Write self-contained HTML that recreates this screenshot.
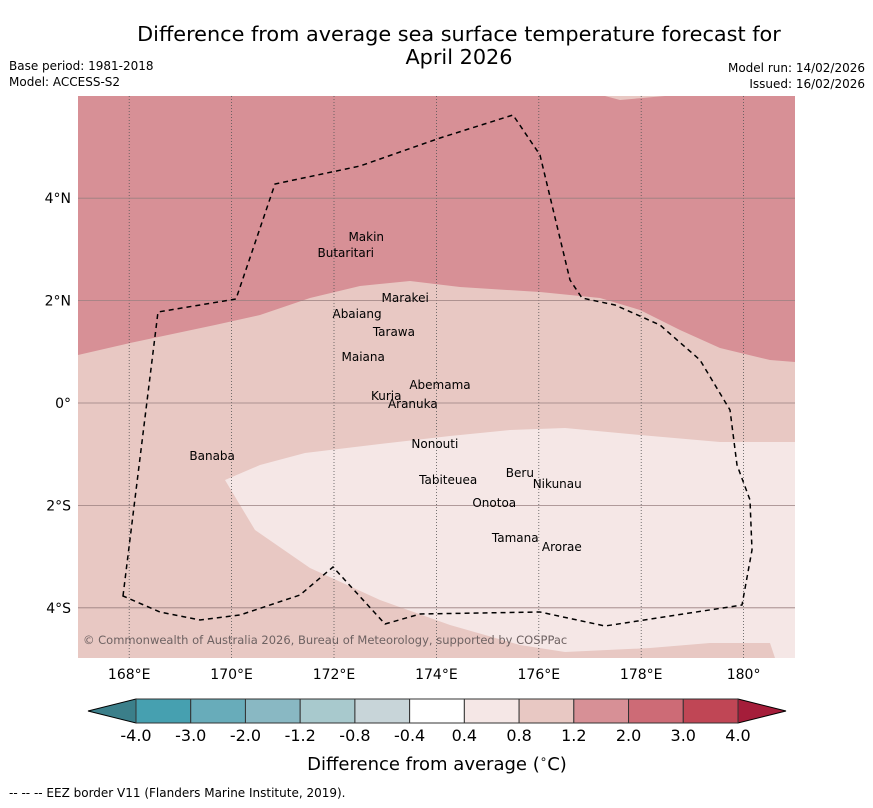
<!DOCTYPE html>
<html><head><meta charset="utf-8">
<style>
body{margin:0;background:#fff;font-family:"DejaVu Sans","Liberation Sans",sans-serif;}
svg text{font-family:"DejaVu Sans","Liberation Sans",sans-serif;}
</style></head>
<body>
<svg id="chart" width="873" height="804" viewBox="0 0 873 804">
<text x="459" y="41" text-anchor="middle" font-size="20.8">Difference from average sea surface temperature forecast for</text>
<text x="459" y="64" text-anchor="middle" font-size="20.8">April 2026</text>
<text x="9" y="70" font-size="12">Base period: 1981-2018</text>
<text x="9" y="86" font-size="12">Model: ACCESS-S2</text>
<text x="865" y="72" font-size="12" text-anchor="end">Model run: 14/02/2026</text>
<text x="865" y="88" font-size="12" text-anchor="end">Issued: 16/02/2026</text>
<defs><clipPath id="mapclip"><rect x="78" y="96" width="717" height="562"/></clipPath></defs>
<g clip-path="url(#mapclip)">
<rect x="78" y="96" width="717" height="562" fill="#e8c8c3"/>
<path d="M78,96 L795,96 L795,362 L770,360 L720,348 L680,330 L640,310 L600,298 L540,292 L460,287 L410,281 L360,286 L310,298 L260,315 L215,325 L130,343 L78,355 Z" fill="#d79096"/>
<path d="M605,96 L665,96 L620,100 Z" fill="#e8c8c3"/>
<path d="M225,480 L260,465 L305,453 L380,444 L450,436 L510,430 L565,428 L640,435 L720,442 L795,442 L795,658 L775,658 L770,643 L710,643 L650,648 L565,652 L520,645 L450,625 L380,600 L310,568 L255,530 Z" fill="#f5e7e6"/>
<g id="grid"></g>
<path d="M123,596 L158,312 L236,299 L275,184 L360,166 L440,138 L513,115 L540,155 L570,280 L582,298 L615,305 L660,325 L700,360 L730,410 L737,465 L750,500 L752,550 L742,605 L605,626 L540,612 L420,614 L385,624 L333,567 L300,595 L240,615 L200,620 L160,612 Z" fill="none" stroke="#000" stroke-width="1.5" stroke-dasharray="5,4"/>
<g id="islands"></g>
<text x="83" y="644" font-size="11.5" fill="#6e6262">© Commonwealth of Australia 2026, Bureau of Meteorology, supported by COSPPac</text>
</g>
<g id="axes"></g>
<g id="cbar"></g>
<text x="437" y="770" text-anchor="middle" font-size="18">Difference from average (<tspan font-size="12" dy="-7">∘</tspan><tspan dy="7">C)</tspan></text>
<text x="9" y="797" font-size="12">--  --  -- EEZ border V11 (Flanders Marine Institute, 2019).</text>
</svg>
<script>
const lonTicks=[168,170,172,174,176,178,180];
const latTicks=[4,2,0,-2,-4];
const islandNames=["Makin","Butaritari","Marakei","Abaiang","Tarawa","Maiana","Abemama","Kuria","Aranuka","Nonouti","Banaba","Tabiteuea","Beru","Nikunau","Onotoa","Tamana","Arorae"];
const islandLon=[172.63,172.23,173.39,172.45,173.17,172.57,174.07,173.02,173.54,173.97,169.62,174.23,175.63,176.36,175.13,175.54,176.45];
const islandLat=[3.24,2.93,2.05,1.74,1.39,0.90,0.35,0.14,-0.02,-0.80,-1.04,-1.50,-1.37,-1.58,-1.95,-2.64,-2.81];
const cbarLevels=["-4.0","-3.0","-2.0","-1.2","-0.8","-0.4","0.4","0.8","1.2","2.0","3.0","4.0"];
const cbarColors=["#46a0b0","#68acba","#89b8c3","#a8c9cd","#c8d5d9","#ffffff","#f5e7e6","#e8c8c3","#d79096","#cd6b76","#c04655"];
const NS="http://www.w3.org/2000/svg";
const x=lon=>78+(lon-167)*51.2;
const y=lat=>403-lat*51.2;
function mk(t,a,p){const e=document.createElementNS(NS,t);for(const k in a)e.setAttribute(k,a[k]);p.appendChild(e);return e;}
const grid=document.getElementById('grid'),axes=document.getElementById('axes');
lonTicks.forEach(l=>{
 const ln=mk('line',{x1:x(l),x2:x(l),y1:96,y2:658,stroke:'#555','stroke-width':0.8,'stroke-dasharray':'1,2'},grid);
 
 
 const t=mk('text',{x:x(l),y:679,'text-anchor':'middle','font-size':14},axes);
 t.textContent=l===180?'180°':l+'°E';
 
 
});
latTicks.forEach(l=>{
 const ln=mk('line',{x1:78,x2:795,y1:y(l),y2:y(l),stroke:'#9a8080','stroke-width':0.8},grid);
 
 
 const t=mk('text',{x:71,y:y(l)+5,'text-anchor':'end','font-size':14},axes);
 t.textContent=l===0?'0°':Math.abs(l)+'°'+(l>0?'N':'S');
 
 
});
const isl=document.getElementById('islands');
islandNames.forEach((n,i)=>{
 const t=mk('text',{x:x(islandLon[i]),y:y(islandLat[i])+4,'text-anchor':'middle','font-size':12},isl);
 t.textContent=n;
 
 
});
const cb=document.getElementById('cbar');
const cx0=136,cx1=738,cy=699,ch=24,w=(cx1-cx0)/cbarColors.length;
const lt=mk('path',{d:`M${cx0},${cy} L88,${cy+ch/2} L${cx0},${cy+ch} Z`,fill:'#3b7f8a',stroke:'#000','stroke-width':1},cb);


const rt=mk('path',{d:`M${cx1},${cy} L786,${cy+ch/2} L${cx1},${cy+ch} Z`,fill:'#a51d3a',stroke:'#000','stroke-width':1},cb);


cbarColors.forEach((c,i)=>{
 const r=mk('rect',{x:cx0+i*w,y:cy,width:w,height:ch,fill:c,stroke:'#333','stroke-width':1},cb);
 
 
});
cbarLevels.forEach((l,i)=>{
 const t=mk('text',{x:cx0+i*w,y:741,'text-anchor':'middle','font-size':16},cb);
 t.textContent=l;
 
 
});
</script>
</body></html>
